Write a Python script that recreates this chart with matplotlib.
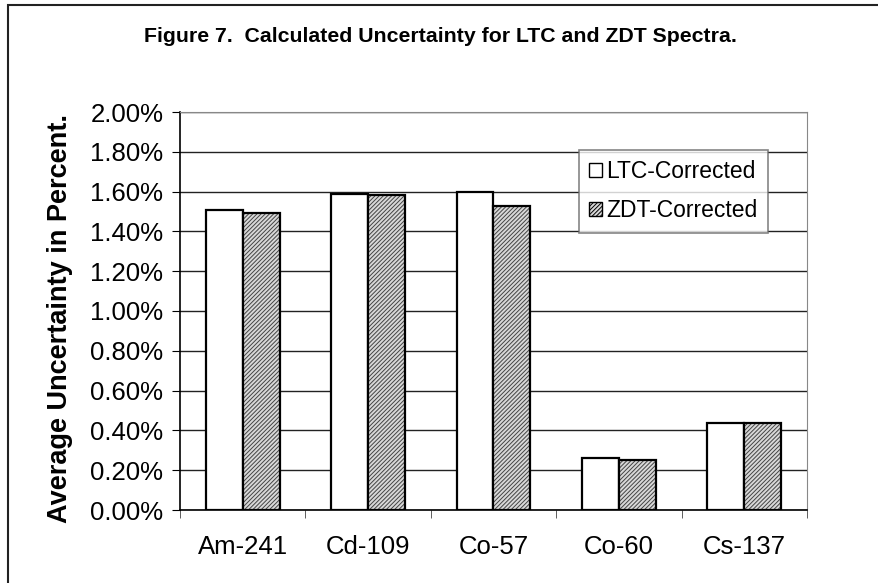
import numpy as np
import matplotlib
matplotlib.use("Agg")
import matplotlib.pyplot as plt
from matplotlib.patches import Rectangle, Patch

plt.rcParams['font.family'] = ['Liberation Sans', 'DejaVu Sans']
plt.rcParams['hatch.linewidth'] = 0.7

# data
isotopes = ["Am-241", "Cd-109", "Co-57", "Co-60", "Cs-137"]
ltc_corrected = [1.51, 1.59, 1.60, 0.26, 0.435]
zdt_corrected = [1.49, 1.585, 1.53, 0.25, 0.435]
y_ticks = [0.0, 0.2, 0.4, 0.6, 0.8, 1.0, 1.2, 1.4, 1.6, 1.8, 2.0]

W, H = 879, 583
fig = plt.figure(figsize=(W / 100, H / 100), dpi=100)

# outer chart frame (right and bottom edges fall outside the image)
fig.patches.append(Rectangle((8 / W, -0.1), 1.0, (H - 5) / H + 0.1, transform=fig.transFigure,
                             fill=False, edgecolor='#222222', linewidth=1.5))

ax = fig.add_axes([180 / W, (H - 510) / H, 627 / W, 398 / H])

x = np.arange(len(isotopes))
bw = 0.295
ax.bar(x - bw / 2, ltc_corrected, bw, color='white', edgecolor='black', linewidth=1.6, zorder=3)
# hatched bars: hatch in gray, then black outline on top
ax.bar(x + bw / 2, zdt_corrected, bw, color='#d8d8d8', edgecolor='#444444', hatch='////////',
       linewidth=0, zorder=3)
ax.bar(x + bw / 2, zdt_corrected, bw, fill=False, edgecolor='black', linewidth=1.6, zorder=4)

ax.set_xlim(-0.5, len(isotopes) - 0.5)
ax.set_ylim(0, 2.0)
ax.set_yticks(y_ticks)
ax.set_yticklabels([f"{v:.2f}%" for v in y_ticks], fontsize=18.5)
ax.set_xticks(x)
ax.set_xticklabels(isotopes, fontsize=18.5)
ax.tick_params(axis='x', length=0, pad=18)
ax.set_xticks(np.arange(-0.5, len(isotopes)), minor=True)
ax.tick_params(axis='x', which='minor', length=6, direction='out', color='#444444')
ax.tick_params(axis='y', length=6, direction='out', pad=6)

ax.grid(axis='y', color='#222222', linewidth=1.0, zorder=0)
ax.set_axisbelow(True)
for s in ['top', 'right']:
    ax.spines[s].set_color('#888888')
ax.spines['left'].set_linewidth(1.2)
ax.spines['bottom'].set_linewidth(1.2)

ax.set_ylabel("Average Uncertainty in Percent.", fontsize=19.5, fontweight='bold')
ax.yaxis.set_label_coords(-0.17, 0.48)

handles = [Patch(facecolor='white', edgecolor='black', linewidth=1.0),
           Patch(facecolor='#d8d8d8', edgecolor='#444444', hatch='////////', linewidth=1.0)]
leg = ax.legend(handles, ["LTC-Corrected", "ZDT-Corrected"], loc='upper left',
                bbox_to_anchor=(399 / 627, (510 - 150) / 398), fontsize=16.5, frameon=True,
                fancybox=False, handlelength=0.55, handleheight=0.55, handletextpad=0.2,
                labelspacing=0.7, borderpad=0.45, borderaxespad=0)
leg.get_frame().set_edgecolor('#666666')
leg.get_frame().set_linewidth(1.2)
for h in leg.legend_handles:
    h.set_edgecolor('black')

fig.text(440 / W, 1 - 37 / H, "Figure 7.  Calculated Uncertainty for LTC and ZDT Spectra.",
         ha='center', va='center', fontsize=15.3, fontweight='bold')

fig.savefig("out.png", dpi=100)
